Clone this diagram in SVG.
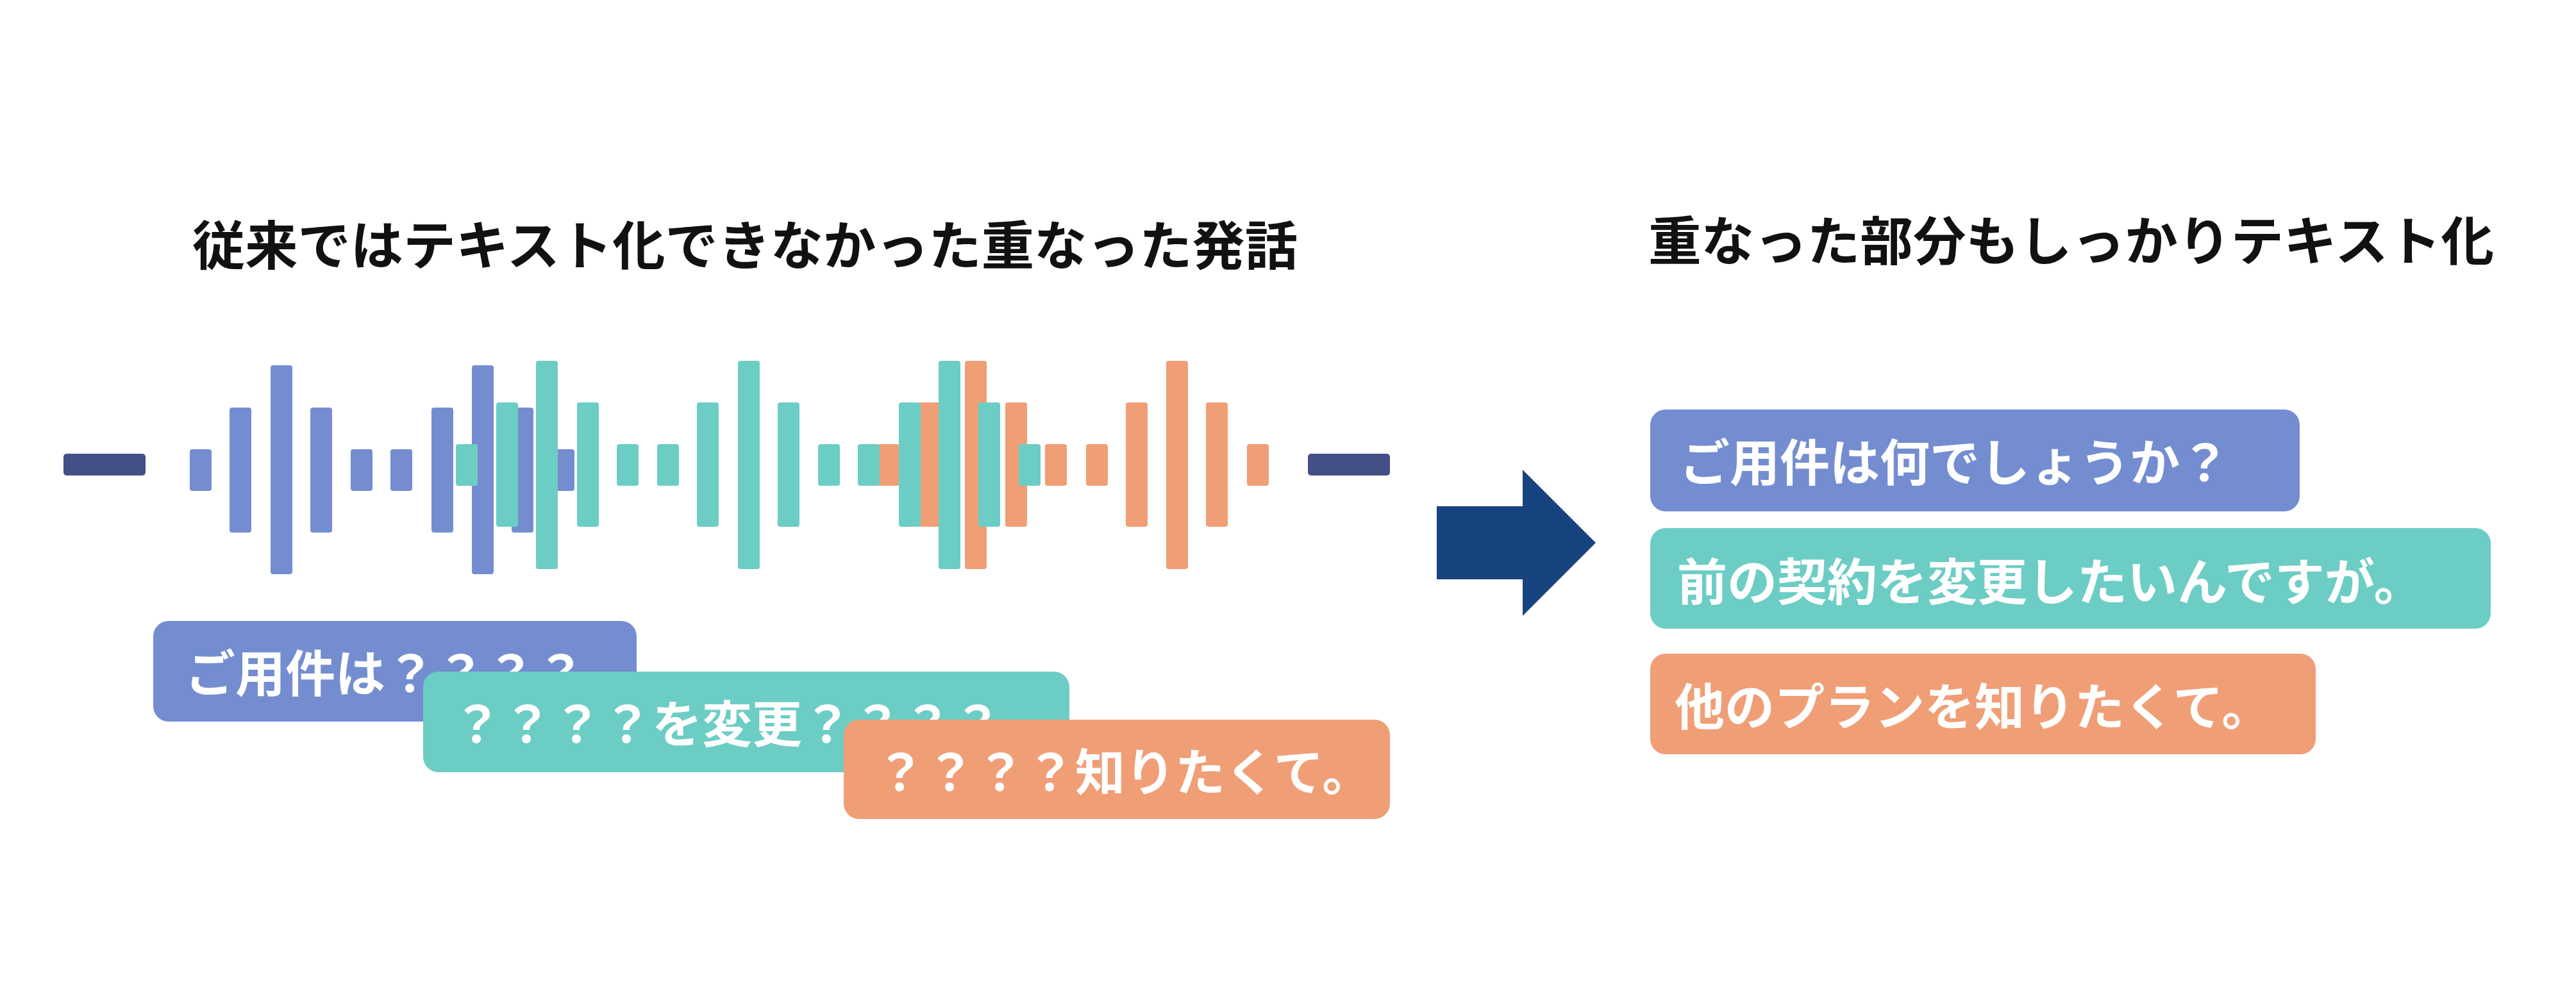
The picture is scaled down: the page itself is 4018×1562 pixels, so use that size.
<svg xmlns="http://www.w3.org/2000/svg" width="4018" height="1562" viewBox="0 0 4018 1562">
<style>
.t{font-family:"Noto Sans CJK JP",sans-serif;font-weight:bold;dominant-baseline:central}
.title{font-size:82px;fill:#111}
.bt{font-size:78px;fill:#fff}
.b{fill:#748dd0}.g{fill:#6ccdc5}.o{fill:#f09e76}
</style>
<rect width="4018" height="1562" fill="#fff"/>
<g id="title-left"><text class="t title" x="300" y="377" textLength="1724" lengthAdjust="spacingAndGlyphs">従来ではテキスト化できなかった重なった発話</text></g>
<g id="title-right"><text class="t title" x="2571" y="370" textLength="1319" lengthAdjust="spacingAndGlyphs">重なった部分もしっかりテキスト化</text></g>
<g id="waveform">
<rect x="99" y="708" width="128" height="34" rx="5" fill="#434f86"/>
<rect x="2040" y="708" width="128" height="34" rx="5" fill="#434f86"/>
<g class="b">
<rect x="296" y="701" width="34" height="65" rx="4"/>
<rect x="358" y="636" width="34" height="195" rx="4"/>
<rect x="422" y="570" width="34" height="326" rx="4"/>
<rect x="484" y="636" width="34" height="195" rx="4"/>
<rect x="547" y="701" width="34" height="65" rx="4"/>
<rect x="609" y="701" width="34" height="65" rx="4"/>
<rect x="673" y="636" width="34" height="195" rx="4"/>
<rect x="736" y="570" width="34" height="326" rx="4"/>
<rect x="798" y="636" width="34" height="195" rx="4"/>
<rect x="862" y="701" width="34" height="65" rx="4"/>
</g>
<g class="o">
<rect x="1369" y="693" width="34" height="65" rx="4"/>
<rect x="1433" y="628" width="34" height="194" rx="4"/>
<rect x="1505" y="563" width="34" height="325" rx="4"/>
<rect x="1568" y="628" width="34" height="194" rx="4"/>
<rect x="1630" y="693" width="34" height="65" rx="4"/>
<rect x="1694" y="693" width="34" height="65" rx="4"/>
<rect x="1756" y="628" width="34" height="194" rx="4"/>
<rect x="1819" y="563" width="34" height="325" rx="4"/>
<rect x="1881" y="628" width="34" height="194" rx="4"/>
<rect x="1945" y="693" width="34" height="65" rx="4"/>
</g>
<g class="g">
<rect x="711" y="693" width="34" height="65" rx="4"/>
<rect x="774" y="628" width="34" height="194" rx="4"/>
<rect x="836" y="563" width="34" height="325" rx="4"/>
<rect x="900" y="628" width="34" height="194" rx="4"/>
<rect x="962" y="693" width="34" height="65" rx="4"/>
<rect x="1025" y="693" width="34" height="65" rx="4"/>
<rect x="1087" y="628" width="34" height="194" rx="4"/>
<rect x="1151" y="563" width="34" height="325" rx="4"/>
<rect x="1213" y="628" width="34" height="194" rx="4"/>
<rect x="1276" y="693" width="34" height="65" rx="4"/>
<rect x="1338" y="693" width="34" height="65" rx="4"/>
<rect x="1402" y="628" width="34" height="194" rx="4"/>
<rect x="1464" y="563" width="34" height="325" rx="4"/>
<rect x="1526" y="628" width="34" height="194" rx="4"/>
<rect x="1589" y="693" width="34" height="65" rx="4"/>
</g>
</g>
<g id="bubble-left-1"><rect class="b" x="239" y="969" width="754" height="157" rx="24"/><text class="t bt" x="289" y="1046">ご用件は？？？？</text></g>
<g id="bubble-left-2"><rect class="g" x="660" y="1048" width="1008" height="157" rx="24"/><text class="t bt" x="705" y="1125">？？？？を変更？？？？</text></g>
<g id="bubble-left-3"><rect class="o" x="1316" y="1123" width="852" height="155" rx="24"/><text class="t bt" x="1365" y="1200">？？？？知りたくて。</text></g>
<g id="arrow"><polygon points="2241,790 2375,790 2375,733 2489,847 2375,961 2375,904 2241,904" fill="#17437e"/></g>
<g id="bubble-right-1"><rect class="b" x="2574" y="639" width="1013" height="159" rx="24"/><text class="t bt" x="2620" y="717">ご用件は何でしょうか？</text></g>
<g id="bubble-right-2"><rect class="g" x="2574" y="824" width="1311" height="157" rx="24"/><text class="t bt" x="2616" y="903">前の契約を変更したいんですが。</text></g>
<g id="bubble-right-3"><rect class="o" x="2574" y="1020" width="1038" height="157" rx="24"/><text class="t bt" x="2612" y="1098">他のプランを知りたくて。</text></g>
</svg>
